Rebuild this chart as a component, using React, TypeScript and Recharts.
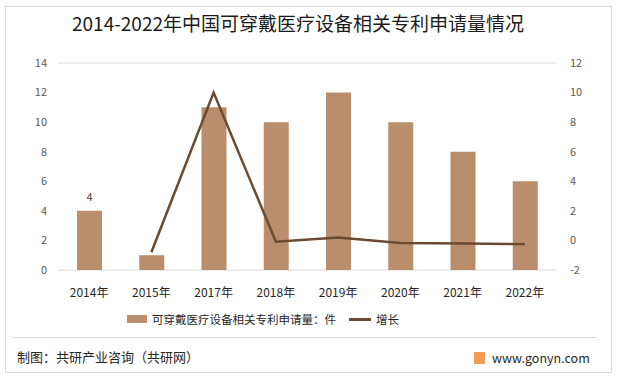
import { ComposedChart, Bar, Line, XAxis, YAxis, CartesianGrid, Legend, LabelList } from 'recharts';

const years = ['2014年', '2015年', '2017年', '2018年', '2019年', '2020年', '2021年', '2022年'];
const applications = [4, 1, 11, 10, 12, 10, 8, 6];
const growth: (number | null)[] = [null, -0.8, 10, -0.09, 0.2, -0.17, -0.2, -0.25];
const barLabels = ['4', '', '', '', '', '', '', ''];
const leftTicks = [0, 2, 4, 6, 8, 10, 12, 14];
const rightTicks = [-2, 0, 2, 4, 6, 8, 10, 12];

const BAR_COLOR = '#BA8E6D';
const LINE_COLOR = '#6A4A30';
const FONT = '"Noto Sans CJK SC", "Noto Sans", sans-serif';

const data = years.map((year, i) => ({
    year,
    applications: applications[i],
    growth: growth[i],
    label: barLabels[i],
}));

const LegendContent = () => (
    <div style={{ display: 'flex', alignItems: 'center', paddingLeft: 117, paddingTop: 5, fontSize: 11.5, color: '#262626', fontFamily: FONT }}>
        <span style={{ display: 'inline-block', width: 20, height: 8, background: BAR_COLOR, marginRight: 5 }} />
        <span style={{ marginRight: 13 }}>可穿戴医疗设备相关专利申请量：件</span>
        <span style={{ display: 'inline-block', width: 22, height: 3, background: LINE_COLOR, marginRight: 5 }} />
        <span>增长</span>
    </div>
);

export default function App() {
    return (
        <div style={{ position: 'absolute', left: 0, top: 0, width: 617, height: 376, background: '#fff', fontFamily: FONT }}>
            {/* outer frame */}
            <div style={{ position: 'absolute', left: 5, top: 6, width: 605, height: 365, border: '1px solid #d9d9d9' }} />
            <div style={{ position: 'absolute', left: 0, top: 9, width: 596, textAlign: 'center', fontSize: 19, color: '#1a1a1a' }}>
                2014-2022年中国可穿戴医疗设备相关专利申请量情况
            </div>

            <div style={{ position: 'absolute', left: 0, top: 0 }}>
                <ComposedChart width={617} height={340} data={data} margin={{ top: 63, right: 11, left: 10, bottom: 10 }}>
                    <CartesianGrid vertical={false} stroke="#d9d9d9" />
                    <XAxis
                        dataKey="year"
                        axisLine={false}
                        tickLine={false}
                        height={36}
                        tick={{ fontSize: 12, fill: '#262626' }}
                        tickMargin={12}
                    />
                    <YAxis
                        yAxisId="left"
                        domain={[0, 14]}
                        ticks={leftTicks}
                        width={48}
                        axisLine={false}
                        tickLine={false}
                        tickMargin={5}
                        tick={{ fontSize: 11, fill: '#595959' }}
                    />
                    <YAxis
                        yAxisId="right"
                        orientation="right"
                        domain={[-2, 12]}
                        ticks={rightTicks}
                        width={50}
                        axisLine={false}
                        tickLine={false}
                        tickMargin={8}
                        tick={{ fontSize: 11, fill: '#595959' }}
                    />
                    <Bar yAxisId="left" dataKey="applications" fill={BAR_COLOR} barSize={25} isAnimationActive={false}>
                        <LabelList dataKey="label" position="top" offset={10} style={{ fontSize: 11, fill: '#404040' }} />
                    </Bar>
                    <Line
                        yAxisId="right"
                        dataKey="growth"
                        type="linear"
                        stroke={LINE_COLOR}
                        strokeWidth={2.5}
                        dot={false}
                        activeDot={false}
                        isAnimationActive={false}
                    />
                    <Legend verticalAlign="bottom" height={24} content={<LegendContent />} />
                </ComposedChart>
            </div>

            {/* footer */}
            <div style={{ position: 'absolute', left: 12, top: 337, width: 585, height: 1, background: '#d9d9d9' }} />
            <div style={{ position: 'absolute', left: 17, top: 347, fontSize: 13, color: '#262626' }}>
                制图：共研产业咨询（共研网）
            </div>
            <div style={{ position: 'absolute', left: 474, top: 348, display: 'flex', alignItems: 'center', fontSize: 12.5, color: '#262626' }}>
                <span style={{ display: 'inline-block', width: 11, height: 12, background: '#F39A55', marginRight: 7, borderRadius: 1 }} />
                <span>www.gonyn.com</span>
            </div>
        </div>
    );
}
